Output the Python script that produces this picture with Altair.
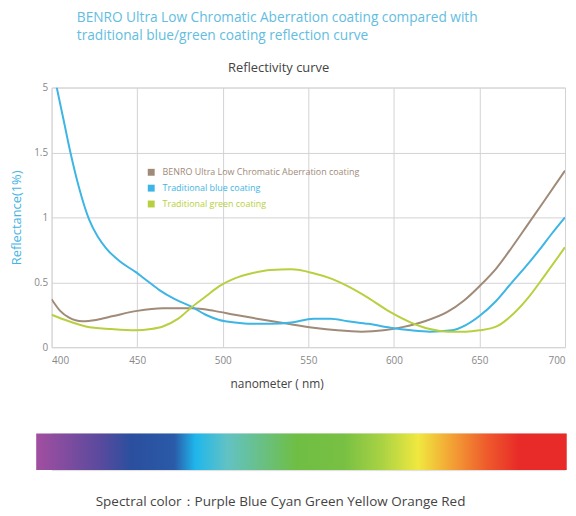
import altair as alt
import pandas as pd

SERIES = ["BENRO Ultra Low Chromatic Aberration coating",
          "Traditional blue coating",
          "Traditional green coating"]
COLORS = ["#a08a78", "#3db5e5", "#b8d040"]

benro_nm = [400, 405, 410, 418, 426, 436, 450, 465, 482, 495, 507, 520, 538, 553, 567,
            581, 594, 605, 618, 631, 641, 650, 660, 669, 678, 688, 700]
benro_v = [0.37, 0.28, 0.23, 0.20, 0.21, 0.24, 0.28, 0.30, 0.30, 0.28, 0.25, 0.22, 0.18,
           0.15, 0.13, 0.12, 0.13, 0.155, 0.20, 0.27, 0.36, 0.47, 0.61, 0.77, 0.94, 1.13, 1.36]

blue_nm = [403, 407, 411, 416, 422, 427, 432, 440, 449, 456, 463, 472, 482, 490, 498, 507,
           517, 528, 540, 553, 563, 573, 585, 598, 610, 621, 634, 642, 650, 660, 669, 677,
           685, 692, 700]
blue_v = [2.0, 1.75, 1.5, 1.23, 0.98, 0.85, 0.76, 0.66, 0.58, 0.51, 0.44, 0.37, 0.31, 0.25,
          0.21, 0.19, 0.18, 0.18, 0.19, 0.22, 0.22, 0.20, 0.18, 0.15, 0.13, 0.12, 0.13, 0.17,
          0.24, 0.36, 0.50, 0.62, 0.75, 0.87, 1.0]

green_nm = [400, 410, 420, 435, 449, 458, 465, 474, 482, 490, 498, 507, 517, 528, 540, 553,
            563, 573, 585, 598, 610, 621, 632, 642, 650, 660, 670, 679, 688, 700]
green_v = [0.25, 0.20, 0.16, 0.14, 0.13, 0.14, 0.16, 0.22, 0.31, 0.39, 0.47, 0.53, 0.57,
           0.595, 0.60, 0.57, 0.53, 0.47, 0.38, 0.27, 0.19, 0.14, 0.12, 0.12, 0.13, 0.16,
           0.26, 0.39, 0.55, 0.77]

x_ticks = [400, 450, 500, 550, 600, 650, 700]
y_ticks = [0, 0.5, 1, 1.5, 2]

spectrum_start = [391]
spectrum_end = [701]
spectrum_colors = ["#a24ea0", "#5a4a9e", "#2a4f9e", "#2a5aa8", "#1fb6ec", "#62c2c4",
                   "#6fbe44", "#78c043", "#a8d243", "#f0e840", "#f3a535", "#ee5a2c", "#e82a28", "#e82a28"]
spectrum_offsets = [0.0, 0.12, 0.18, 0.26, 0.30, 0.36, 0.49, 0.58, 0.65, 0.72, 0.78, 0.85, 0.91, 1.0]

rows = []
for name, xs, vs in zip(SERIES, [benro_nm, blue_nm, green_nm], [benro_v, blue_v, green_v]):
    for xv, yv in zip(xs, vs):
        rows.append({"nm": xv, "v": yv, "series": name})
df = pd.DataFrame(rows)

label_color_expr = ("datum.label == '%s' ? '%s' : datum.label == '%s' ? '%s' : '%s'"
                    % (SERIES[0], COLORS[0], SERIES[1], COLORS[1], COLORS[2]))

lines = alt.Chart(df).mark_line(strokeWidth=2, interpolate="monotone", clip=True).encode(
    x=alt.X("nm:Q", scale=alt.Scale(domain=[400, 700], nice=False, zero=False),
            axis=alt.Axis(values=x_ticks, title="nanometer ( nm)", titleFontSize=12,
                          titleColor="#444", titleFontWeight="normal", titlePadding=14,
                          titleX=227, titleAlign="center",
                          labelFontSize=10, labelColor="#888", labelPadding=8,
                          ticks=False, domain=False, gridColor="#d2d2d6", gridWidth=1)),
    y=alt.Y("v:Q", scale=alt.Scale(domain=[0, 2], nice=False),
            axis=alt.Axis(values=y_ticks, title="Reflectance(1%)", titleFontSize=13,
                          titleColor="#45b3e3", titleFontWeight="normal", titlePadding=10,
                          labelFontSize=10, labelColor="#888", labelPadding=4,
                          labelExpr="datum.value == 2 ? '5' : toString(datum.value)",
                          ticks=False, domain=False, gridColor="#d2d2d6", gridWidth=1)),
    color=alt.Color("series:N", sort=SERIES,
                    scale=alt.Scale(domain=SERIES, range=COLORS),
                    legend=alt.Legend(title=None, orient="none", legendX=96, legendY=81,
                                      symbolType="square", symbolSize=12, symbolStrokeWidth=3.5,
                                      labelFontSize=9, labelLimit=400,
                                      labelColor={"expr": label_color_expr},
                                      rowPadding=-3, labelOffset=7)),
).properties(
    width=518, height=262,
    title=alt.TitleParams("Reflectivity curve", fontSize=13, fontWeight="normal",
                          color="#444", anchor="middle", offset=8, dx=-30),
)

sdf = pd.DataFrame({"start": spectrum_start, "end": spectrum_end})
grad = alt.Gradient(gradient="linear", x1=0, x2=1, y1=0, y2=0,
                    stops=[alt.GradientStop(color=c, offset=o)
                           for c, o in zip(spectrum_colors, spectrum_offsets)])
bar = alt.Chart(sdf).mark_rect(fill=grad).encode(
    x=alt.X("start:Q", scale=alt.Scale(domain=[400, 700], nice=False, zero=False), axis=None),
    x2="end:Q",
).properties(
    width=518, height=37,
    title=alt.TitleParams("Spectral color：Purple Blue Cyan Green Yellow Orange Red",
                          orient="bottom", anchor="middle", fontSize=13.6, fontWeight="normal",
                          color="#444", offset=25, dx=-28),
)

chart = alt.vconcat(lines, bar, spacing=42).properties(
    title=alt.TitleParams(["BENRO Ultra Low Chromatic Aberration coating compared with",
                           "traditional blue/green coating reflection curve"],
                          fontSize=13.8, fontWeight="normal", color="#62bddf", anchor="start",
                          dx=67, offset=19, lineHeight=18),
).configure_view(fill="#e8e8ea", stroke=None).configure(
    font="Open Sans", padding={"left": 2, "top": 0, "right": 0, "bottom": 0}
).configure_concat(spacing=42)

chart.save("out.html", embed_options={"renderer": "svg", "actions": False})
